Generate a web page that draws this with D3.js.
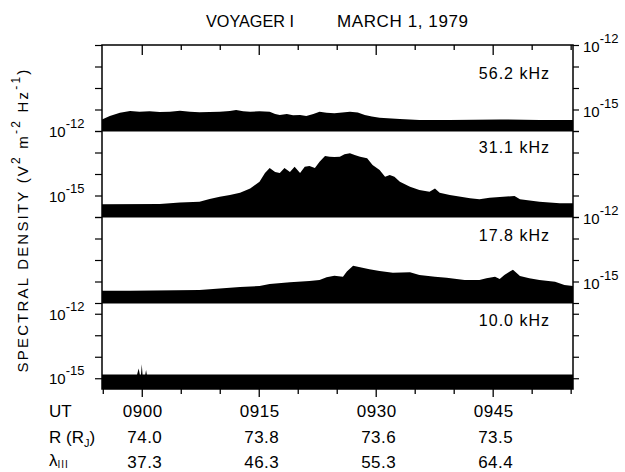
<!DOCTYPE html>
<html>
<head>
<meta charset="utf-8">
<script src="https://cdnjs.cloudflare.com/ajax/libs/d3/7.8.5/d3.min.js"></script>
<style>
  body { margin: 0; background: #fff; }
  svg text { font-family: "Liberation Sans", Arial, sans-serif; fill: #000; }
</style>
</head>
<body>
<div id="chart"></div>
<script>
// Each point: [minutes after 0900 UT, log10 spectral density (V^2 m^-2 Hz^-1)]
var band562 = [[-5.1,-15.46],[-4.1,-15.30],[-2.8,-15.15],[-1.5,-15.07],[-0.3,-15.10],[1.0,-15.08],
  [2.3,-15.12],[3.6,-15.10],[4.9,-15.06],[6.2,-15.10],[7.4,-15.13],[8.7,-15.12],[10.0,-15.10],
  [11.3,-15.07],[12.1,-15.02],[13.0,-15.08],[13.9,-15.10],[15.1,-15.08],[16.4,-15.10],[17.1,-15.21],
  [17.7,-15.26],[18.6,-15.21],[19.4,-15.27],[20.3,-15.26],[21.1,-15.30],[22.0,-15.21],[22.8,-15.10],
  [23.7,-15.15],[24.7,-15.18],[26.7,-15.10],[27.7,-15.14],[28.6,-15.26],[29.5,-15.33],[30.5,-15.38],
  [33.1,-15.44],[35.6,-15.49],[39.5,-15.49],[45.9,-15.46],[51.0,-15.49],[55.3,-15.49]];

var band311 = [[-5.1,-15.41],[2.3,-15.40],[4.9,-15.33],[7.4,-15.29],[8.7,-15.16],[10.0,-15.06],
  [11.3,-14.98],[12.6,-14.87],[13.9,-14.67],[15.1,-14.36],[15.8,-13.95],[16.4,-13.72],[17.1,-13.91],
  [17.7,-13.95],[18.3,-13.72],[19.0,-13.91],[19.6,-13.66],[20.3,-13.95],[20.9,-13.66],[21.5,-13.63],
  [22.2,-13.72],[22.8,-13.43],[23.5,-13.16],[24.1,-13.20],[24.7,-13.21],[25.4,-13.20],[26.0,-13.08],
  [26.7,-13.04],[27.3,-13.12],[28.0,-13.20],[28.9,-13.27],[29.6,-13.58],[30.5,-13.81],[31.2,-14.13],
  [31.8,-14.05],[32.4,-14.13],[33.1,-14.36],[34.4,-14.59],[35.6,-14.74],[36.9,-14.82],[37.6,-14.67],
  [38.2,-14.87],[39.5,-14.98],[42.1,-15.13],[43.3,-15.18],[44.6,-15.10],[47.8,-15.02],[48.5,-15.18],
  [51.0,-15.29],[53.6,-15.36],[55.3,-15.36]];

var band178 = [[-5.1,-15.43],[-1.5,-15.43],[7.4,-15.40],[10.0,-15.33],[12.6,-15.26],[15.1,-15.21],
  [16.4,-15.12],[19.0,-15.04],[21.5,-14.98],[22.8,-14.93],[23.7,-14.80],[24.7,-14.73],[25.8,-14.78],
  [26.3,-14.54],[27.1,-14.27],[28.0,-14.34],[29.2,-14.43],[30.5,-14.51],[32.2,-14.59],[34.4,-14.57],
  [35.6,-14.70],[37.6,-14.78],[39.1,-14.82],[41.4,-14.93],[43.3,-14.93],[44.2,-14.85],[45.3,-14.78],
  [45.9,-14.88],[46.5,-14.70],[47.2,-14.54],[47.6,-14.45],[48.5,-14.74],[49.7,-14.85],[51.0,-14.93],
  [53.0,-15.01],[54.2,-15.16],[55.3,-15.21]];

var band100 = [[-5.1,-14.83],[-0.6,-14.83],[-0.4,-14.55],[-0.25,-14.83],[-0.1,-14.83],[0,-14.35],
  [0.1,-14.83],[0.45,-14.83],[0.55,-14.62],[0.65,-14.83],[55.3,-14.83]];

var bandNames = ["56.2 kHz", "31.1 kHz", "17.8 kHz", "10.0 kHz"];
var utLabels = ["0900", "0915", "0930", "0945"];
var rLabels = ["74.0", "73.8", "73.6", "73.5"];
var lamLabels = ["37.3", "46.3", "55.3", "64.4"];

var svgWidth = 625;
var svgHeight = 472;
var left = 102, right = 573, top0 = 45, panelH = 86;

var svg = d3.select("#chart")
  .append("svg")
  .attr("width", svgWidth)
  .attr("height", svgHeight);

var x = d3.scaleLinear().domain([-5.1, 55.3]).range([left, right]);

// panel set up: which side carries the 10^-12 / 10^-15 labels
var panels = [
  { data: band562, domain: [-16, -12], side: "right" },
  { data: band311, domain: [-16, -12], side: "left" },
  { data: band178, domain: [-16, -12], side: "right" },
  { data: band100, domain: [-15.5, -11.5], side: "left" }
];

panels.forEach(function(p, i) {
  var pTop = top0 + panelH * i;
  var pBot = pTop + panelH;
  var y = d3.scaleLog()
    .domain([Math.pow(10, p.domain[0]), Math.pow(10, p.domain[1])])
    .range([pBot, pTop]);

  var area = d3.area()
    .x(function(d) { return x(d[0]); })
    .y0(pBot)
    .y1(function(d) { return y(Math.pow(10, d[1])); });

  svg.append("path")
    .datum(p.data)
    .attr("d", area)
    .attr("fill", "#000");

  var decades = [];
  for (var e = Math.ceil(p.domain[0]); e <= Math.floor(p.domain[1]); e++) {
    decades.push(Math.pow(10, e));
  }

  var lAxis = svg.append("g")
    .attr("transform", "translate(" + left + ",0)")
    .call(d3.axisLeft(y).tickValues(decades).tickSize(7).tickFormat(""));
  lAxis.select(".domain").remove();
  var rAxis = svg.append("g")
    .attr("transform", "translate(" + right + ",0)")
    .call(d3.axisRight(y).tickValues(decades).tickSize(6).tickFormat(""));
  rAxis.select(".domain").remove();
  svg.selectAll(".tick line").attr("stroke-width", 1.2);

  // 10^-12 and 10^-15 labels
  [-12, -15].forEach(function(e) {
    var ty = y(Math.pow(10, e));
    var lab = svg.append("text")
      .attr("font-size", 15);
    if (p.side === "left") {
      lab.attr("x", 49).attr("y", ty + 6);
    } else {
      lab.attr("x", 583).attr("y", ty + 7);
    }
    lab.append("tspan").text("10");
    lab.append("tspan").attr("dy", -9).attr("font-size", 13).text("-" + (-e));
  });

  svg.append("text")
    .attr("x", 550)
    .attr("y", [79, 153, 241, 326][i])
    .attr("text-anchor", "end")
    .attr("font-size", 16)
    .attr("letter-spacing", 1)
    .text(bandNames[i]);

  if (i > 0) {
    svg.append("line")
      .attr("x1", left).attr("x2", right)
      .attr("y1", pTop).attr("y2", pTop)
      .attr("stroke", "#000").attr("stroke-width", 1);
  }
});

// frame
svg.append("rect")
  .attr("x", left).attr("y", top0)
  .attr("width", right - left).attr("height", panelH * 4)
  .attr("fill", "none").attr("stroke", "#000").attr("stroke-width", 1.5);

// time ticks, top (inward) and bottom (outward)
var minorT = d3.range(5, 56, 5).filter(function(t) { return t % 15 !== 0; });
var majorT = [0, 15, 30, 45];
var bottomY = top0 + panelH * 4;

function timeTicks(axisFn, ty, vals, size) {
  var g = svg.append("g")
    .attr("transform", "translate(0," + ty + ")")
    .call(axisFn(x).tickValues(vals).tickSize(size).tickFormat(""));
  g.select(".domain").remove();
  g.selectAll(".tick line").attr("stroke-width", 1.3);
}
timeTicks(d3.axisBottom, top0, minorT, 5);
timeTicks(d3.axisBottom, top0, majorT, 10);
timeTicks(d3.axisBottom, bottomY, minorT.concat([-5]), 5);
timeTicks(d3.axisBottom, bottomY, majorT, 8);

// title
svg.append("text")
  .attr("x", 206).attr("y", 27)
  .attr("font-size", 17)
  .attr("textLength", 88).attr("lengthAdjust", "spacingAndGlyphs")
  .text("VOYAGER I");
svg.append("text")
  .attr("x", 337).attr("y", 27)
  .attr("font-size", 17)
  .attr("textLength", 131).attr("lengthAdjust", "spacing")
  .text("MARCH 1, 1979");

// y label
var yl = svg.append("text")
  .attr("transform", "translate(28," + 220 + ") rotate(-90)")
  .attr("text-anchor", "middle")
  .attr("font-size", 15)
  .attr("letter-spacing", 2.2);
yl.append("tspan").text("SPECTRAL  DENSITY (V");
yl.append("tspan").attr("dy", -8).attr("font-size", 12).text("2");
yl.append("tspan").attr("dy", 8).text(" m");
yl.append("tspan").attr("dy", -8).attr("font-size", 12).text("-2");
yl.append("tspan").attr("dy", 8).text(" Hz");
yl.append("tspan").attr("dy", -8).attr("font-size", 12).text("-1");
yl.append("tspan").attr("dy", 8).text(")");

// rows under the axis
var rows = [
  { y: 417, values: utLabels },
  { y: 443, values: rLabels },
  { y: 468, values: lamLabels }
];
rows.forEach(function(r, k) {
  svg.selectAll(null)
    .data(r.values)
    .enter()
    .append("text")
    .attr("x", function(d, j) { return x(majorT[j]) + (k === 0 ? 1 : 3); })
    .attr("y", r.y)
    .attr("text-anchor", "middle")
    .attr("font-size", 17)
    .attr("letter-spacing", 0.5)
    .text(function(d) { return d; });
});

svg.append("text").attr("x", 49).attr("y", 417).attr("font-size", 17).text("UT");
var rl = svg.append("text").attr("x", 49).attr("y", 443).attr("font-size", 17);
rl.append("tspan").text("R (R");
rl.append("tspan").attr("dy", 4).attr("font-size", 11).text("J");
rl.append("tspan").attr("dy", -4).text(")");
var ll = svg.append("text").attr("x", 49).attr("y", 466).attr("font-size", 17);
ll.append("tspan").text("λ");
ll.append("tspan").attr("dy", 2).attr("font-size", 10).attr("letter-spacing", 1).text("III");
</script>
</body>
</html>
